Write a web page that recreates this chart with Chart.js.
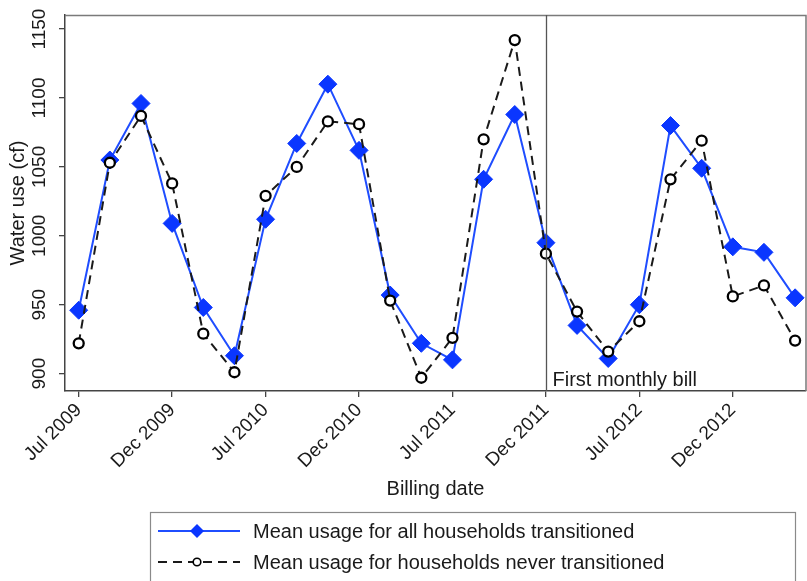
<!DOCTYPE html>
<html>
<head>
<meta charset="utf-8">
<script src="https://cdn.jsdelivr.net/npm/chart.js@4"></script>
<style>
  html, body { margin: 0; padding: 0; background: #fff; }
  #wrap { width: 807px; height: 581px; }
</style>
</head>
<body>
<div id="wrap"><canvas id="usageChart" width="807" height="581"></canvas></div>
<script>
// bimonthly bills, one entry per billing period starting Jul 2009
const transitioned = [946, 1055, 1096, 1009, 948, 913, 1012, 1067, 1110, 1062, 957, 922,
                      910, 1041, 1088, 995, 935, 911, 950, 1080, 1049, 992, 988, 955];
const neverTransitioned = [922, 1053, 1087, 1038, 929, 901, 1029, 1050, 1083, 1081, 953, 897,
                           926, 1070, 1142, 987, 945, 916, 938, 1041, 1069, 956, 964, 924];
const tickLabels = ['Jul 2009', 'Dec 2009', 'Jul 2010', 'Dec 2010', 'Jul 2011', 'Dec 2011', 'Jul 2012', 'Dec 2012'];
const tickEvery = 3;
const yTicks = [900, 950, 1000, 1050, 1100, 1150];
const firstMonthlyIdx = 15;
const seriesNames = ['Mean usage for all households transitioned', 'Mean usage for households never transitioned'];

const FONT = '"Liberation Sans", Arial, sans-serif';
const BLUE = '#1f4dff';
const BLUE_MARK = '#0a36ff';
const DARK = '#1a1a1a';

const toPoints = arr => arr.map((v, i) => ({ x: i, y: v }));

// draws frame, rotated y labels, the policy line and the boxed legend
const extras = {
    id: 'extras',
    afterDatasetsDraw(chart) {
        const { ctx, chartArea: a, scales: { x, y } } = chart;
        ctx.save();
        // top and right sides of the frame
        ctx.strokeStyle = '#7a7a7a';
        ctx.lineWidth = 1.5;
        ctx.beginPath();
        ctx.moveTo(a.left, a.top + 0.5);
        ctx.lineTo(a.right, a.top + 0.5);
        ctx.lineTo(a.right, a.bottom);
        ctx.stroke();

        // first monthly bill marker
        const px = Math.round(x.getPixelForValue(firstMonthlyIdx)) + 0.5;
        ctx.strokeStyle = '#555';
        ctx.lineWidth = 1.3;
        ctx.beginPath();
        ctx.moveTo(px, a.top);
        ctx.lineTo(px, a.bottom);
        ctx.stroke();
        ctx.fillStyle = DARK;
        ctx.font = '20px ' + FONT;
        ctx.textAlign = 'left';
        ctx.textBaseline = 'alphabetic';
        ctx.fillText('First monthly bill', px + 6, a.bottom - 5);

        // vertical tick labels on the y axis
        ctx.font = '19px ' + FONT;
        ctx.textAlign = 'center';
        ctx.textBaseline = 'middle';
        yTicks.forEach(v => {
            ctx.save();
            ctx.translate(40, y.getPixelForValue(v));
            ctx.rotate(-Math.PI / 2);
            ctx.fillText(String(v), 0, 0);
            ctx.restore();
        });

        // legend
        ctx.strokeStyle = '#8a8a8a';
        ctx.lineWidth = 1.2;
        ctx.strokeRect(150.5, 512.5, 645, 80);
        const rows = [531, 562];
        chart.data.datasets.forEach((ds, i) => {
            const ly = rows[i];
            ctx.strokeStyle = ds.borderColor;
            ctx.lineWidth = 2;
            ctx.setLineDash(ds.borderDash || []);
            ctx.beginPath();
            ctx.moveTo(158, ly);
            ctx.lineTo(240, ly);
            ctx.stroke();
            ctx.setLineDash([]);
            if (ds.pointStyle === 'rectRot') {
                ctx.fillStyle = ds.pointBackgroundColor;
                ctx.beginPath();
                ctx.moveTo(197, ly - 7);
                ctx.lineTo(204, ly);
                ctx.lineTo(197, ly + 7);
                ctx.lineTo(190, ly);
                ctx.closePath();
                ctx.fill();
            } else {
                ctx.fillStyle = '#fff';
                ctx.strokeStyle = ds.pointBorderColor;
                ctx.lineWidth = 1.6;
                ctx.beginPath();
                ctx.arc(197, ly, 3.8, 0, Math.PI * 2);
                ctx.fill();
                ctx.stroke();
            }
            ctx.fillStyle = DARK;
            ctx.font = '20px ' + FONT;
            ctx.textAlign = 'left';
            ctx.textBaseline = 'middle';
            ctx.fillText(seriesNames[i], 253, ly + 1);
        });
        ctx.restore();
    }
};

new Chart(document.getElementById('usageChart'), {
    type: 'line',
    data: {
        datasets: [
            {
                label: seriesNames[0],
                data: toPoints(transitioned),
                borderColor: BLUE,
                borderWidth: 2,
                pointStyle: 'rectRot',
                pointRadius: 9,
                pointBackgroundColor: BLUE_MARK,
                pointBorderColor: BLUE_MARK,
                pointBorderWidth: 1,
                order: 2
            },
            {
                label: seriesNames[1],
                data: toPoints(neverTransitioned),
                borderColor: DARK,
                borderWidth: 2,
                borderDash: [9, 6],
                pointStyle: 'circle',
                pointRadius: 5,
                pointBackgroundColor: '#fff',
                pointBorderColor: '#000',
                pointBorderWidth: 2.3,
                order: 1
            }
        ]
    },
    options: {
        responsive: false,
        animation: false,
        layout: { autoPadding: false, padding: { top: 15, right: 1, left: 0, bottom: 0 } },
        plugins: { legend: { display: false }, tooltip: { enabled: false } },
        scales: {
            x: {
                type: 'linear',
                min: -0.44,
                max: 23.35,
                afterBuildTicks: s => { s.ticks = tickLabels.map((_, i) => ({ value: i * tickEvery })); },
                afterFit: s => { s.height = 190; s.paddingLeft = 0; s.paddingRight = 0; },
                ticks: {
                    minRotation: 45,
                    maxRotation: 45,
                    padding: 2,
                    color: DARK,
                    font: { family: FONT, size: 19 },
                    callback: v => tickLabels[Math.round(v / tickEvery)]
                },
                grid: { drawOnChartArea: false, drawTicks: true, tickLength: 6, color: '#444', lineWidth: 1.3 },
                border: { display: true, color: '#444', width: 1.5 },
                title: {
                    display: true,
                    text: 'Billing date',
                    color: DARK,
                    font: { family: FONT, size: 20 },
                    padding: { top: 0, bottom: 80 }
                }
            },
            y: {
                min: 887.4,
                max: 1160.2,
                afterBuildTicks: s => { s.ticks = yTicks.map(v => ({ value: v })); },
                afterFit: s => { s.width = 65; },
                ticks: { display: false },
                grid: { drawOnChartArea: false, drawTicks: true, tickLength: 6, color: '#444', lineWidth: 1.3 },
                border: { display: true, color: '#444', width: 1.5 },
                title: {
                    display: true,
                    text: 'Water use (cf)',
                    color: DARK,
                    font: { family: FONT, size: 20 },
                    padding: { top: 6, bottom: 0 }
                }
            }
        }
    },
    plugins: [extras]
});
</script>
</body>
</html>
